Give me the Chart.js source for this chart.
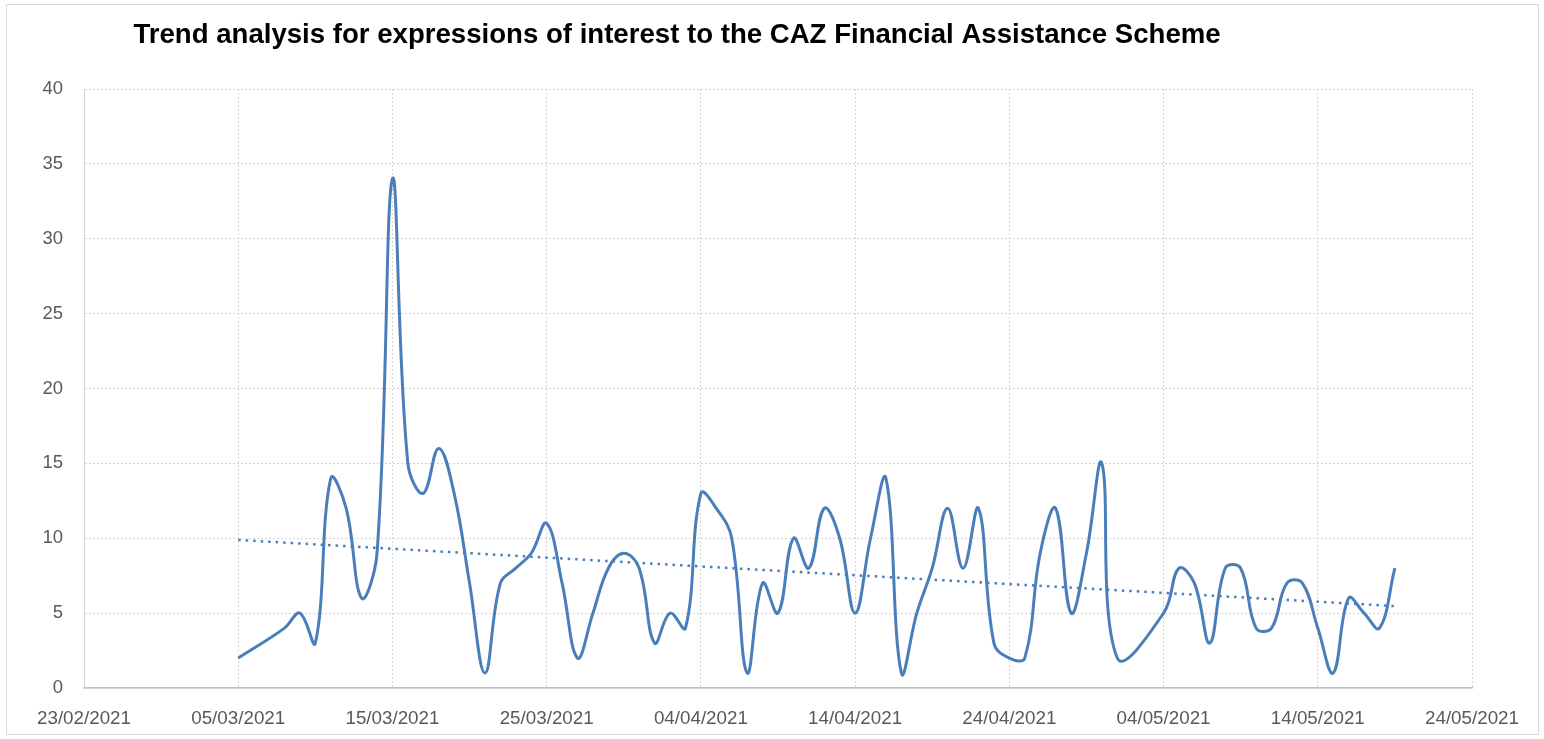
<!DOCTYPE html>
<html>
<head>
<meta charset="utf-8">
<title>CAZ Financial Assistance Scheme trend</title>
<script src="https://cdn.jsdelivr.net/npm/chart.js@4.4.1/dist/chart.umd.min.js"></script>
<style>
  html, body { margin: 0; padding: 0; background: #fff; }
  #wrap { width: 1544px; height: 739px; position: relative; }
</style>
</head>
<body>
<div id="wrap"><canvas id="trend" width="1544" height="739"></canvas></div>
<script>
// chart text
const chartTitle = 'Trend analysis for expressions of interest to the CAZ Financial Assistance Scheme';

// x axis runs 23/02/2021 -> 24/05/2021, a tick every 10 days
const axisStart = '23/02/2021';
const axisDays = 90;
const tickStepDays = 10;

// y axis
const yMin = 0;
const yMax = 40;
const yStep = 5;

// expressions of interest per day
const dates = [
  '05/03/2021', '08/03/2021', '09/03/2021', '10/03/2021', '11/03/2021', '12/03/2021', '13/03/2021', '14/03/2021',
  '15/03/2021', '16/03/2021', '17/03/2021', '18/03/2021', '19/03/2021', '20/03/2021', '21/03/2021', '22/03/2021',
  '23/03/2021', '24/03/2021', '25/03/2021', '26/03/2021', '27/03/2021', '28/03/2021', '29/03/2021', '30/03/2021',
  '31/03/2021', '01/04/2021', '02/04/2021', '03/04/2021', '04/04/2021', '05/04/2021', '06/04/2021', '07/04/2021',
  '08/04/2021', '09/04/2021', '10/04/2021', '11/04/2021', '12/04/2021', '13/04/2021', '14/04/2021', '15/04/2021',
  '16/04/2021', '17/04/2021', '18/04/2021', '19/04/2021', '20/04/2021', '21/04/2021', '22/04/2021', '23/04/2021',
  '24/04/2021', '25/04/2021', '26/04/2021', '27/04/2021', '28/04/2021', '29/04/2021', '30/04/2021', '01/05/2021',
  '04/05/2021', '05/05/2021', '06/05/2021', '07/05/2021', '08/05/2021', '09/05/2021', '10/05/2021', '11/05/2021',
  '12/05/2021', '13/05/2021', '14/05/2021', '15/05/2021', '16/05/2021', '17/05/2021', '18/05/2021', '19/05/2021'
];
const counts = [
  2, 4, 5, 3, 14, 12, 6, 9,
  34, 15, 13, 16, 13, 7, 1, 7,
  8, 9, 11, 7, 2, 5, 8, 9,
  8, 3, 5, 4, 13, 12, 10, 1,
  7, 5, 10, 8, 12, 10, 5, 10,
  14, 1, 5, 8, 12, 8, 12, 3,
  2, 2, 9, 12, 5, 9, 15, 2,
  5, 8, 7, 3, 8, 8, 4, 4,
  7, 7, 4, 1, 6, 5, 4, 8
];

const lineBlue = '#4a7ebb';
const gridGrey = '#d4d4d4';
const labelGrey = '#595959';

function toDay(s) {
  const p = s.split('/').map(Number);
  return Date.UTC(p[2], p[1] - 1, p[0]) / 86400000;
}
const day0 = toDay(axisStart);

function fmtDay(offset) {
  const dt = new Date((day0 + offset) * 86400000);
  const dd = String(dt.getUTCDate()).padStart(2, '0');
  const mm = String(dt.getUTCMonth() + 1).padStart(2, '0');
  return dd + '/' + mm + '/' + dt.getUTCFullYear();
}

const points = dates.map((d, i) => ({ x: toDay(d) - day0, y: counts[i] }));

// linear trendline (least squares), like Excel's
function linearTrend(pts) {
  const n = pts.length;
  let sx = 0, sy = 0, sxx = 0, sxy = 0;
  pts.forEach(p => { sx += p.x; sy += p.y; sxx += p.x * p.x; sxy += p.x * p.y; });
  const slope = (n * sxy - sx * sy) / (n * sxx - sx * sx);
  const icpt = (sy - slope * sx) / n;
  const first = pts[0].x, last = pts[n - 1].x;
  return [{ x: first, y: icpt + slope * first }, { x: last, y: icpt + slope * last }];
}
const trendPoints = linearTrend(points);

// white background, outer frame and the title
const frameAndTitle = {
  id: 'frameAndTitle',
  beforeDraw(chart) {
    const ctx = chart.ctx;
    ctx.save();
    ctx.fillStyle = '#fff';
    ctx.fillRect(0, 0, chart.width, chart.height);
    ctx.restore();
  },
  afterDraw(chart) {
    const ctx = chart.ctx;
    ctx.save();
    ctx.strokeStyle = '#d9d9d9';
    ctx.lineWidth = 1;
    ctx.strokeRect(6.5, 4.5, chart.width - 12, chart.height - 9);
    ctx.fillStyle = '#000';
    ctx.font = 'bold 27.6px "Liberation Sans", Arial, sans-serif';
    ctx.textAlign = 'center';
    ctx.textBaseline = 'middle';
    ctx.fillText(chartTitle, 677, 35);
    ctx.restore();
  }
};

new Chart(document.getElementById('trend'), {
  type: 'line',
  data: {
    datasets: [
      {
        label: 'Expressions of interest',
        data: points,
        borderColor: lineBlue,
        borderWidth: 3,
        pointRadius: 0,
        tension: 0.4,
        fill: false
      },
      {
        label: 'Linear trend',
        data: trendPoints,
        borderColor: lineBlue,
        borderWidth: 2.5,
        borderDash: [2.5, 5],
        pointRadius: 0,
        fill: false
      }
    ]
  },
  options: {
    responsive: false,
    animation: false,
    devicePixelRatio: 1,
    layout: { padding: { left: 20, right: 72, top: 89, bottom: 8 } },
    plugins: {
      legend: { display: false },
      tooltip: { enabled: false },
      title: { display: false }
    },
    scales: {
      x: {
        type: 'linear',
        min: 0,
        max: axisDays,
        afterFit(scale) { scale.height = 43; },
        ticks: {
          stepSize: tickStepDays,
          callback: v => fmtDay(v),
          color: labelGrey,
          font: { family: '"Liberation Sans", Arial, sans-serif', size: 18.8 },
          maxRotation: 0,
          autoSkip: false,
          padding: 20
        },
        grid: { color: gridGrey, drawTicks: false },
        border: { color: '#bfbfbf', width: 1.5, dash: [2, 2] }
      },
      y: {
        min: yMin,
        max: yMax,
        afterFit(scale) { scale.width = 64; },
        ticks: {
          stepSize: yStep,
          color: labelGrey,
          font: { family: '"Liberation Sans", Arial, sans-serif', size: 18.5 },
          padding: 21
        },
        grid: { color: gridGrey, drawTicks: false },
        border: { color: gridGrey, width: 1, dash: [2, 2] }
      }
    }
  },
  plugins: [frameAndTitle]
});
</script>
</body>
</html>
